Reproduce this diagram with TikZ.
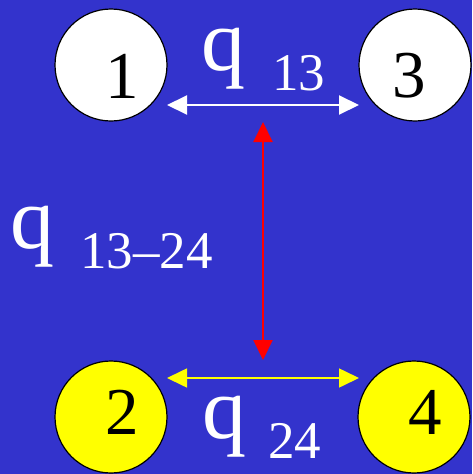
\documentclass[tikz,border=0pt]{standalone}
\usepackage{fontspec}
\setmainfont{Liberation Serif}
\usetikzlibrary{arrows.meta}
\definecolor{bgblue}{RGB}{51,51,204}
\definecolor{yellow}{RGB}{255,255,0}
\definecolor{red}{RGB}{255,0,0}
\tikzset{
    site/.style={circle, draw=black, line width=1.2pt, minimum size=112pt, inner sep=0pt},
    digit/.style={font=\fontsize{67}{67}\selectfont, inner sep=0pt, text=black},
    qlabel/.style={font=\fontsize{88}{88}\selectfont, inner sep=0pt, text=white, anchor=base west},
    link/.style={line width=2pt, {Triangle[length=20pt,width=19pt]}-{Triangle[length=20pt,width=19pt]}}
}
\newcommand{\qsub}[2]{q\hspace{#1}\raisebox{-20pt}{\fontsize{53}{53}\selectfont #2}}
\begin{document}
\begin{tikzpicture}[x=1pt, y=-1pt]
    \fill[bgblue] (0,0) rectangle (472,474);
    \useasboundingbox (0,0) rectangle (472,474);

    \node[site, fill=white] (c1) at (111,65) {};
    \node[site, fill=white] (c3) at (415,65) {};
    \node[site, fill=yellow] (c2) at (111,417) {};
    \node[site, fill=yellow] (c4) at (414,417) {};

    \node[digit] (n1) at (122,76) {1};
    \node[digit] (n3) at (409,76) {3};
    \node[digit] (n2) at (122,412) {2};
    \node[digit] (n4) at (425,412) {4};

    \coordinate (a1) at (167,105);
    \coordinate (a3) at (359,105);
    \coordinate (a2) at (167,378);
    \coordinate (a4) at (359,378);
    \coordinate (top) at (263,122);
    \coordinate (bot) at (263,360);

    \draw[link, white] (a1) -- (a3);
    \draw[link, yellow, line width=1.6pt] (a2) -- (a4);
    \draw[link, red] (top) -- (bot);

    \node[qlabel] (q13) at (201,70) {\qsub{27pt}{13}};
    \node[qlabel] (q1324) at (10,248) {\qsub{26pt}{13--24}};
    \node[qlabel] (q24) at (202,438) {\qsub{22pt}{24}};
\end{tikzpicture}
\end{document}
